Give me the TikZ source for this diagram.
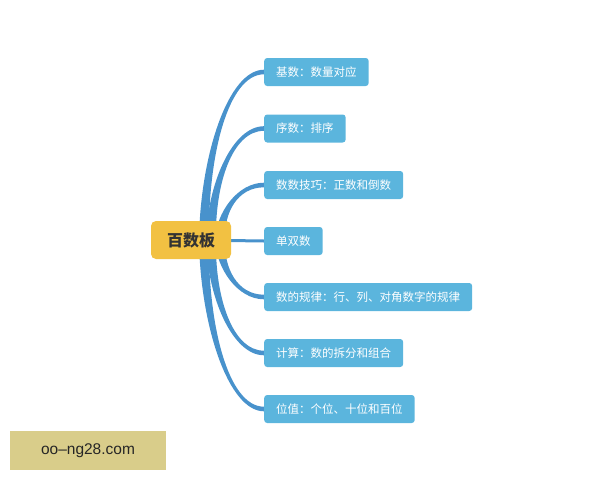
\documentclass[tikz,border=0pt]{standalone}
\usepackage{fontspec}
\setmainfont{Noto Sans CJK SC}
\newfontfamily\latinsans{Liberation Sans}
\usetikzlibrary{calc}
\pgfdeclarelayer{bg}
\pgfsetlayers{bg,main}
\definecolor{hubgold}{RGB}{242,193,66}
\definecolor{leafblue}{RGB}{91,181,221}
\definecolor{twigblue}{RGB}{72,146,204}
\definecolor{stampbg}{RGB}{217,205,138}
\newcommand{\twig}[3]{%
  \fill[twigblue] ($(#1)+(-5,0)$) .. controls ($(#1)!0.5!(#1|-#2.west)+(-3.8,0)$) and ($(#1|-#2.west)!0.4!(#2.west)-(0,#3)$) .. ($(#2.west)-(0,#3)$)
    -- ($(#2.west)+(0,#3)$) .. controls ($(#1|-#2.west)!0.4!(#2.west)+(0,#3)$) and ($(#1)!0.5!(#1|-#2.west)+(3.8,0)$) .. ($(#1)+(5,0)$) -- cycle;}
\begin{document}
\begin{tikzpicture}[x=1pt,y=-1pt,
  hub/.style={fill=hubgold,rounded corners=5pt,minimum width=80pt,minimum height=38pt,
    font=\fontsize{16}{18}\selectfont\bfseries,text=black!80},
  leaf/.style={fill=leafblue,rounded corners=3pt,anchor=west,minimum height=28pt,
    inner xsep=12pt,inner ysep=0pt,text=white,font=\fontsize{11.5}{12}\selectfont},
  stamp/.style={fill=stampbg,minimum width=156pt,minimum height=39pt,
    font=\latinsans\fontsize{15.5}{16}\selectfont,text=black!85}]
\useasboundingbox (0,0) rectangle (600,480);
\node[hub] (hub) at (191,240) {百数板};
\node[leaf] (b1) at (264,72) {基数：数量对应};
\node[leaf] (b2) at (264,128.5) {序数：排序};
\node[leaf] (b3) at (264,185) {数数技巧：正数和倒数};
\node[leaf] (b4) at (264,241) {单双数};
\node[leaf] (b5) at (264,297) {数的规律：行、列、对角数字的规律};
\node[leaf] (b6) at (264,353) {计算：数的拆分和组合};
\node[leaf] (b7) at (264,409) {位值：个位、十位和百位};
\coordinate (s1) at ($(hub.center)+(13,0)$);
\coordinate (s2) at ($(hub.center)+(20,0)$);
\coordinate (s3) at ($(hub.center)+(29,0)$);
\coordinate (s5) at ($(hub.center)+(29,0)$);
\coordinate (s6) at ($(hub.center)+(20,0)$);
\coordinate (s7) at ($(hub.center)+(13,0)$);
\begin{pgfonlayer}{bg}
\twig{s1}{b1}{2.3}
\twig{s2}{b2}{2.3}
\twig{s3}{b3}{2.3}
\twig{s5}{b5}{-2.3}
\twig{s6}{b6}{-2.3}
\twig{s7}{b7}{-2.3}
\draw[twigblue,line width=3pt] (hub.center) -- (b4.west);
\end{pgfonlayer}
\node[stamp] (mark) at (88,450.5) {oo–ng28.com};
\end{tikzpicture}
\end{document}
